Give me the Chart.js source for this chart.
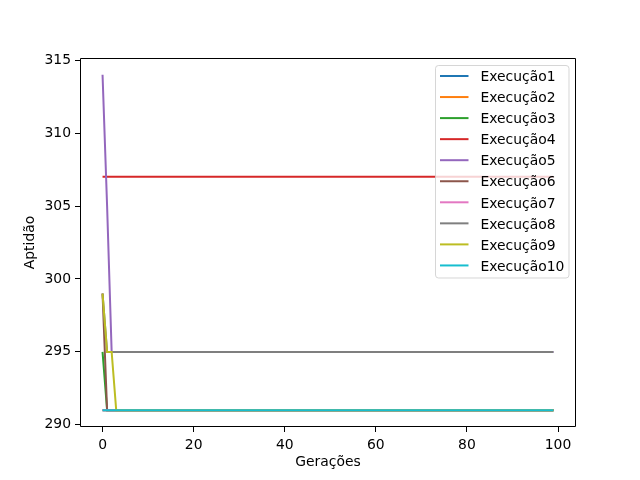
<!DOCTYPE html>
<html>
<head>
<meta charset="utf-8">
<script src="https://cdn.jsdelivr.net/npm/chart.js@4.4.1/dist/chart.umd.min.js"></script>
<style>
  html, body { margin: 0; padding: 0; background: #ffffff; }
  #wrap { width: 640px; height: 480px; }
</style>
</head>
<body>
<div id="wrap"><canvas id="c" width="640" height="480"></canvas></div>
<script>
// ---- data ----
const seriesNames = ["Execução1","Execução2","Execução3","Execução4","Execução5","Execução6","Execução7","Execução8","Execução9","Execução10"];
const seriesColors = ["#1f77b4","#ff7f0e","#2ca02c","#d62728","#9467bd","#8c564b","#e377c2","#7f7f7f","#bcbd22","#17becf"];
const xTicks = [0,20,40,60,80,100];
const yTicks = [290,295,300,305,310,315];
const xLabel = "Gerações";
const yLabel = "Aptidão";

const exec1 = [
291,291,291,291,291,291,291,291,291,291,
291,291,291,291,291,291,291,291,291,291,
291,291,291,291,291,291,291,291,291,291,
291,291,291,291,291,291,291,291,291,291,
291,291,291,291,291,291,291,291,291,291,
291,291,291,291,291,291,291,291,291,291,
291,291,291,291,291,291,291,291,291,291,
291,291,291,291,291,291,291,291,291,291,
291,291,291,291,291,291,291,291,291,291,
291,291,291,291,291,291,291,291,291,291];
const exec2 = [
291,291,291,291,291,291,291,291,291,291,
291,291,291,291,291,291,291,291,291,291,
291,291,291,291,291,291,291,291,291,291,
291,291,291,291,291,291,291,291,291,291,
291,291,291,291,291,291,291,291,291,291,
291,291,291,291,291,291,291,291,291,291,
291,291,291,291,291,291,291,291,291,291,
291,291,291,291,291,291,291,291,291,291,
291,291,291,291,291,291,291,291,291,291,
291,291,291,291,291,291,291,291,291,291];
const exec3 = [
295,291,291,291,291,291,291,291,291,291,
291,291,291,291,291,291,291,291,291,291,
291,291,291,291,291,291,291,291,291,291,
291,291,291,291,291,291,291,291,291,291,
291,291,291,291,291,291,291,291,291,291,
291,291,291,291,291,291,291,291,291,291,
291,291,291,291,291,291,291,291,291,291,
291,291,291,291,291,291,291,291,291,291,
291,291,291,291,291,291,291,291,291,291,
291,291,291,291,291,291,291,291,291,291];
const exec4 = [
307,307,307,307,307,307,307,307,307,307,
307,307,307,307,307,307,307,307,307,307,
307,307,307,307,307,307,307,307,307,307,
307,307,307,307,307,307,307,307,307,307,
307,307,307,307,307,307,307,307,307,307,
307,307,307,307,307,307,307,307,307,307,
307,307,307,307,307,307,307,307,307,307,
307,307,307,307,307,307,307,307,307,307,
307,307,307,307,307,307,307,307,307,307,
307,307,307,307,307,307,307,307,307,307];
const exec5 = [
314,305,295,295,295,295,295,295,295,295,
295,295,295,295,295,295,295,295,295,295,
295,295,295,295,295,295,295,295,295,295,
295,295,295,295,295,295,295,295,295,295,
295,295,295,295,295,295,295,295,295,295,
295,295,295,295,295,295,295,295,295,295,
295,295,295,295,295,295,295,295,295,295,
295,295,295,295,295,295,295,295,295,295,
295,295,295,295,295,295,295,295,295,295,
295,295,295,295,295,295,295,295,295,295];
const exec6 = [
299,291,291,291,291,291,291,291,291,291,
291,291,291,291,291,291,291,291,291,291,
291,291,291,291,291,291,291,291,291,291,
291,291,291,291,291,291,291,291,291,291,
291,291,291,291,291,291,291,291,291,291,
291,291,291,291,291,291,291,291,291,291,
291,291,291,291,291,291,291,291,291,291,
291,291,291,291,291,291,291,291,291,291,
291,291,291,291,291,291,291,291,291,291,
291,291,291,291,291,291,291,291,291,291];
const exec7 = [
291,291,291,291,291,291,291,291,291,291,
291,291,291,291,291,291,291,291,291,291,
291,291,291,291,291,291,291,291,291,291,
291,291,291,291,291,291,291,291,291,291,
291,291,291,291,291,291,291,291,291,291,
291,291,291,291,291,291,291,291,291,291,
291,291,291,291,291,291,291,291,291,291,
291,291,291,291,291,291,291,291,291,291,
291,291,291,291,291,291,291,291,291,291,
291,291,291,291,291,291,291,291,291,291];
const exec8 = [
299,295,295,295,295,295,295,295,295,295,
295,295,295,295,295,295,295,295,295,295,
295,295,295,295,295,295,295,295,295,295,
295,295,295,295,295,295,295,295,295,295,
295,295,295,295,295,295,295,295,295,295,
295,295,295,295,295,295,295,295,295,295,
295,295,295,295,295,295,295,295,295,295,
295,295,295,295,295,295,295,295,295,295,
295,295,295,295,295,295,295,295,295,295,
295,295,295,295,295,295,295,295,295,295];
const exec9 = [
299,295,295,291,291,291,291,291,291,291,
291,291,291,291,291,291,291,291,291,291,
291,291,291,291,291,291,291,291,291,291,
291,291,291,291,291,291,291,291,291,291,
291,291,291,291,291,291,291,291,291,291,
291,291,291,291,291,291,291,291,291,291,
291,291,291,291,291,291,291,291,291,291,
291,291,291,291,291,291,291,291,291,291,
291,291,291,291,291,291,291,291,291,291,
291,291,291,291,291,291,291,291,291,291];
const exec10 = [
291,291,291,291,291,291,291,291,291,291,
291,291,291,291,291,291,291,291,291,291,
291,291,291,291,291,291,291,291,291,291,
291,291,291,291,291,291,291,291,291,291,
291,291,291,291,291,291,291,291,291,291,
291,291,291,291,291,291,291,291,291,291,
291,291,291,291,291,291,291,291,291,291,
291,291,291,291,291,291,291,291,291,291,
291,291,291,291,291,291,291,291,291,291,
291,291,291,291,291,291,291,291,291,291];
const allSeries = [exec1,exec2,exec3,exec4,exec5,exec6,exec7,exec8,exec9,exec10];

// ---- build chart ----
const FONT = "'DejaVu Sans', sans-serif";
const datasets = allSeries.map((vals, i) => ({
  label: seriesNames[i],
  data: vals.map((v, x) => ({x: x, y: v})),
  borderColor: seriesColors[i],
  backgroundColor: seriesColors[i],
  borderWidth: 2,
  pointRadius: 0,
  tension: 0,
  fill: false,
  order: allSeries.length - 1 - i
}));

const frameAndLegend = {
  id: 'frameAndLegend',
  afterDatasetsDraw(chart) {
    const ctx = chart.ctx;
    const a = chart.chartArea;
    ctx.save();
    // frame (all four spines)
    ctx.strokeStyle = '#000';
    ctx.lineWidth = 1;
    ctx.beginPath();
    ctx.rect(Math.round(a.left) + 0.5, Math.round(a.top) + 0.5,
             Math.round(a.right) - Math.round(a.left) - 1,
             Math.round(a.bottom) - Math.round(a.top) - 1);
    ctx.stroke();
    // legend
    const lx = 435.5, ly = 65.5, lw = 133.5, lh = 212.5, r = 3;
    ctx.beginPath();
    ctx.moveTo(lx + r, ly);
    ctx.lineTo(lx + lw - r, ly);
    ctx.quadraticCurveTo(lx + lw, ly, lx + lw, ly + r);
    ctx.lineTo(lx + lw, ly + lh - r);
    ctx.quadraticCurveTo(lx + lw, ly + lh, lx + lw - r, ly + lh);
    ctx.lineTo(lx + r, ly + lh);
    ctx.quadraticCurveTo(lx, ly + lh, lx, ly + lh - r);
    ctx.lineTo(lx, ly + r);
    ctx.quadraticCurveTo(lx, ly, lx + r, ly);
    ctx.closePath();
    ctx.fillStyle = 'rgba(255,255,255,0.8)';
    ctx.fill();
    ctx.strokeStyle = 'rgba(204,204,204,0.8)';
    ctx.stroke();
    ctx.font = '13.9px ' + FONT;
    ctx.textBaseline = 'alphabetic';
    ctx.textAlign = 'left';
    chart.data.datasets.forEach((ds, i) => {
      const y = 76 + i * 21.05;
      ctx.strokeStyle = ds.borderColor;
      ctx.lineWidth = 2;
      ctx.beginPath();
      ctx.moveTo(440, y);
      ctx.lineTo(468.5, y);
      ctx.stroke();
      ctx.fillStyle = '#000';
      ctx.fillText(ds.label, 480.5, y + 5.2);
    });
    ctx.restore();
  }
};

new Chart(document.getElementById('c'), {
  type: 'line',
  data: { datasets: datasets },
  options: {
    responsive: false,
    animation: false,
    devicePixelRatio: 1,
    layout: { padding: { left: 0, right: 64, top: 58, bottom: 0 } },
    plugins: { legend: { display: false }, tooltip: { enabled: false } },
    scales: {
      x: {
        type: 'linear',
        min: -4.95,
        max: 103.95,
        afterBuildTicks: (s) => { s.ticks = xTicks.map(v => ({value: v})); },
        afterFit: (s) => { s.height = 53; },
        grid: { display: true, drawOnChartArea: false, drawTicks: true, tickLength: 5, color: '#000', lineWidth: 1 },
        border: { display: false },
        ticks: { color: '#000', font: { family: FONT, size: 13.9 }, padding: 5, maxRotation: 0, autoSkip: false },
        title: { display: true, text: xLabel, color: '#000', font: { family: FONT, size: 13.9 }, padding: { top: 0, bottom: 9 } }
      },
      y: {
        type: 'linear',
        min: 289.85,
        max: 315.15,
        afterBuildTicks: (s) => { s.ticks = yTicks.map(v => ({value: v})); },
        afterFit: (s) => { s.width = 80; },
        grid: { display: true, drawOnChartArea: false, drawTicks: true, tickLength: 5, color: '#000', lineWidth: 1 },
        border: { display: false },
        ticks: { color: '#000', font: { family: FONT, size: 13.9 }, padding: 4, autoSkip: false },
        title: { display: true, text: yLabel, color: '#000', font: { family: FONT, size: 13.9 }, padding: { top: 22, bottom: 0 } }
      }
    }
  },
  plugins: [frameAndLegend]
});
</script>
</body>
</html>
